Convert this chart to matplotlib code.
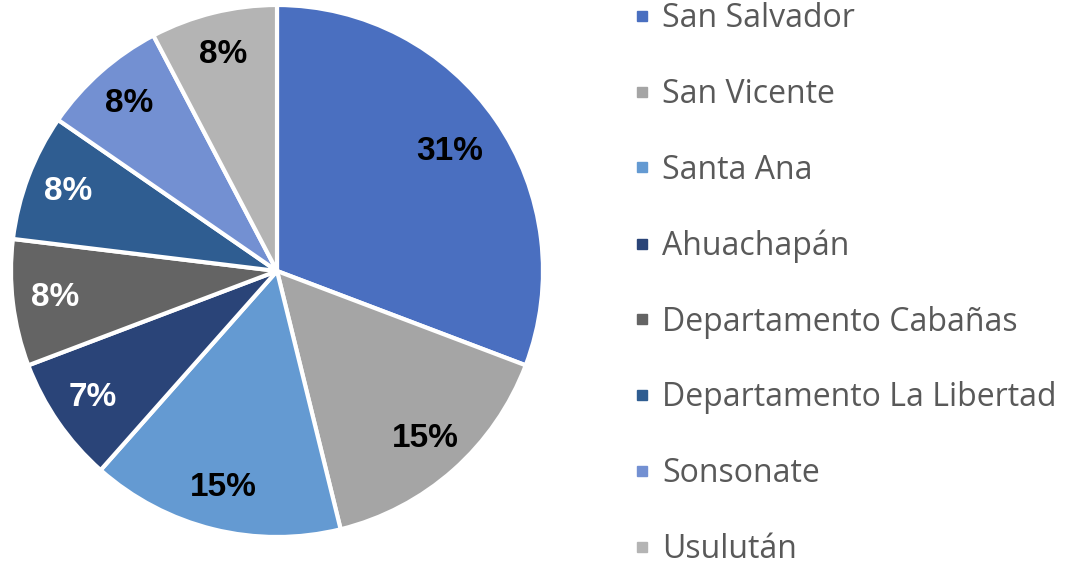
import matplotlib
matplotlib.use('Agg')
import matplotlib.pyplot as plt
from matplotlib.lines import Line2D

# datos del grafico
departamentos = ['San Salvador', 'San Vicente', 'Santa Ana', 'Ahuachapán',
                 'Departamento Cabañas', 'Departamento La Libertad',
                 'Sonsonate', 'Usulután']
conteos = [4, 2, 2, 1, 1, 1, 1, 1]
etiquetas = ['31%', '15%', '15%', '7%', '8%', '8%', '8%', '8%']
colores = ['#4A6FC0', '#A5A5A5', '#649AD2', '#2A4478', '#646464',
           '#2F5D91', '#7390D2', '#B4B4B4']
color_texto = ['black', 'black', 'black', 'white', 'white', 'white',
               'black', 'black']

fig = plt.figure(figsize=(10.65, 5.71), dpi=100)
ax = fig.add_axes([11 / 1065, 34 / 571, 532 / 1065, 532 / 571])

wedges, texts = ax.pie(conteos, labels=etiquetas, colors=colores,
                       startangle=90, counterclock=False,
                       labeldistance=0.84,
                       wedgeprops={'edgecolor': 'white', 'linewidth': 3})
for t, c in zip(texts, color_texto):
    t.set_color(c)
    t.set_fontsize(24)
    t.set_fontweight('bold')
    t.set_family('Liberation Sans')
    t.set_ha('center')
    t.set_va('center')
# la etiqueta del sector grande va un poco mas adentro
x0, y0 = texts[0].get_position()
texts[0].set_position((x0 * 0.79 / 0.84, y0 * 0.79 / 0.84))
ax.set_xlim(-1, 1)
ax.set_ylim(-1, 1)
ax.set_aspect('equal')

# leyenda a la derecha
handles = [Line2D([], [], marker='s', linestyle='', markersize=7, color=c)
           for c in colores]
leg = fig.legend(handles, departamentos, loc='upper left',
                 bbox_to_anchor=(606 / 1065, 1.047), frameon=False,
                 handlelength=0.45, handletextpad=0.4, labelspacing=1.34,
                 prop={'family': 'Open Sans', 'size': 23})
for t in leg.get_texts():
    t.set_color('#595959')

fig.savefig('out.png', dpi=100)
